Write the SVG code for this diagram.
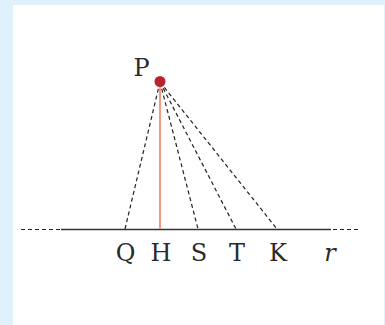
<svg xmlns="http://www.w3.org/2000/svg" width="385" height="325" viewBox="0 0 385 325">
<style>
.lbl{font-family:"DejaVu Serif","Liberation Serif",serif;font-size:24px;fill:#2a2a2a;text-anchor:middle}
.it{font-style:italic}
.dash{stroke:#222;stroke-width:1.2;stroke-dasharray:4 3;fill:none}
.base{stroke:#333;stroke-width:1.3;fill:none}
</style>
<rect x="0" y="0" width="385" height="325" fill="#dff1fb"/>
<rect x="13" y="5" width="371" height="320" fill="#ffffff"/>
<g id="connectors">
<line class="base" x1="61" y1="229.5" x2="331" y2="229.5"/>
<line class="dash" x1="21" y1="229.5" x2="61" y2="229.5"/>
<line class="dash" x1="333" y1="229.5" x2="360" y2="229.5"/>
<line class="dash" x1="160" y1="82" x2="125" y2="229"/>
<line class="dash" x1="160" y1="82" x2="198" y2="229"/>
<line class="dash" x1="160" y1="82" x2="236" y2="229"/>
<line class="dash" x1="160" y1="82" x2="277" y2="229"/>
<line x1="160" y1="85" x2="160" y2="229" stroke="#f4906f" stroke-width="1.8"/>
</g>
<g id="P">
<circle cx="160" cy="81.5" r="5.5" fill="#b8242c"/>
<text class="lbl" x="141.5" y="76">P</text>
</g>
<g id="Q"><text class="lbl" x="125.5" y="261">Q</text></g>
<g id="H"><text class="lbl" x="161" y="261">H</text></g>
<g id="S"><text class="lbl" x="199" y="261">S</text></g>
<g id="T"><text class="lbl" x="237" y="261">T</text></g>
<g id="K"><text class="lbl" x="278" y="261">K</text></g>
<g id="r"><text class="lbl it" x="330" y="261">r</text></g>
</svg>
